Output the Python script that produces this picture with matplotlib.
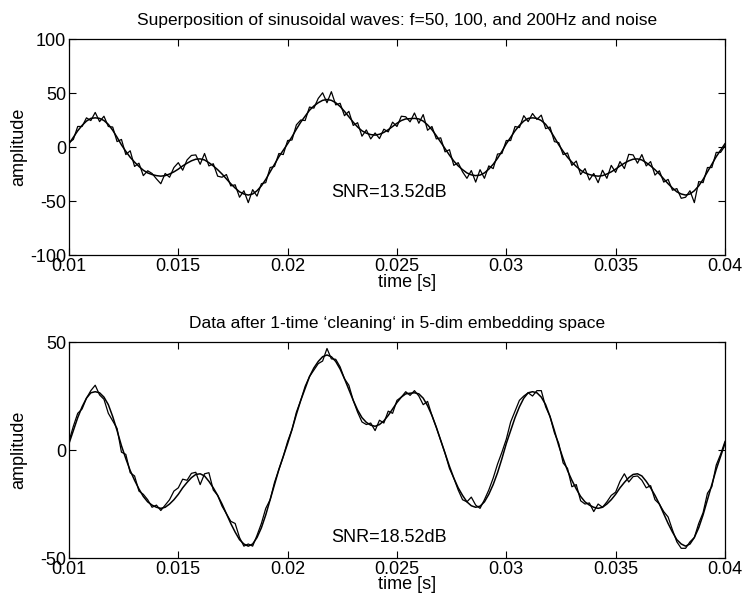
import matplotlib.pyplot as plt
import numpy as np

plt.rcParams['font.family'] = ['Liberation Sans', 'DejaVu Sans']
plt.rcParams['axes.unicode_minus'] = False

# sampling grid, 0.2 ms step
time = np.linspace(0.01, 0.04, 151)

# clean superposition (50, 100, 200 Hz)
clean = [3, 9, 15, 20, 24, 26.5, 27, 26.5, 24.5, 21,
         15.5, 9, 2, -4, -9.5, -14, -18, -21.5, -24, -25.5,
         -26.5, -27, -26.5, -25, -23, -20.5, -17.5, -15, -12.8, -11.3,
         -11, -12, -14.5, -17.5, -21, -25, -29.5, -34, -38, -41.5,
         -43.5, -44.5, -43.5, -40.5, -36, -30, -23, -16, -9, -3,
         3, 9.5, 16.5, 23, 28.5, 34, 38, 41, 43.2, 44,
         43.2, 41, 37.5, 33, 28, 23, 18.5, 15, 12.8, 11.5,
         11, 11.8, 13.5, 16, 19, 22, 24.5, 26, 26.3, 26.5,
         26, 24, 20.5, 16, 10.5, 4.5, -1.5, -7.5, -13, -17.5,
         -21, -24, -25.8, -26.5, -26, -24, -20.5, -16, -10.5, -4,
         3, 9, 15, 20, 24, 26.5, 27, 26.5, 24.5, 21,
         15.5, 9, 2, -4, -9.5, -14, -18, -21.5, -24, -25.5,
         -26.5, -27, -26.5, -25, -23, -20.5, -17.5, -15, -12.8, -11.3,
         -11, -12, -14.5, -17.5, -21, -25, -29.5, -34, -38, -41.5,
         -43.5, -44.5, -43.5, -40.5, -36, -30, -23, -16, -9, -3,
         3]

# signal with noise (upper panel)
noisy = [4, 7, 19, 19, 27, 24.5, 32, 23.5, 28.5, 19,
         18.5, 5, 7, -7, -3.5, -18, -15, -26.5, -22, -24.5,
         -29.5, -34, -24.5, -28, -19, -14.5, -21.5, -12, -7.8, -7.3,
         -16, -6, -17.5, -15.5, -27, -28, -25.5, -36, -35, -46.5,
         -40.5, -51.5, -39.5, -45.5, -34, -33, -19, -18, -6, -7,
         6, 6.5, 20.5, 25, 24.5, 37, 36, 45, 50.2, 41,
         51.2, 39, 40.5, 29, 33, 20, 22.5, 10, 15.8, 7.5,
         13, 7.8, 16.5, 14, 23, 19, 28.5, 28, 23.3, 31.5,
         22, 30, 15.5, 19, 7.5, 8.5, -4.5, -2.5, -17, -14.5,
         -23, -29, -21.8, -32.5, -21, -29, -17.5, -20, -6.5, -6,
         6, 6, 19, 18, 29, 23.5, 31, 25.5, 29.5, 17,
         18.5, 5, 4, -7, -5.5, -17, -13, -25.5, -20, -30.5,
         -24.5, -33, -21.5, -29, -17, -23.5, -13.5, -20, -6.8, -7.3,
         -15, -7, -17.5, -13.5, -26, -22, -32.5, -30, -40, -38.5,
         -47.5, -46.5, -40.5, -51.5, -32, -33, -19, -19, -5, -5,
         1]

# after one cleaning pass (lower panel)
cleaned = [4, 11, 17, 19, 24, 27.5, 30, 25.5, 23.5, 17,
           13.5, 10, -1, -2, -10.5, -12, -19, -20.5, -23, -26.5,
           -25.5, -28, -25.5, -23, -19, -17.5, -13.5, -14, -10.8, -10.3,
           -16, -11, -10.5, -18.5, -21, -26, -29.5, -33, -34, -40.5,
           -44.5, -43.5, -44.5, -39.5, -34, -27, -23, -15, -9, -3,
           4, 9.5, 17.5, 23, 29.5, 34, 37, 40, 41.2, 47,
           42.2, 42, 38.5, 33, 30, 23, 17.5, 13, 11.8, 12.5,
           9, 13.8, 12.5, 18, 17, 23, 24.5, 27, 25.3, 27.5,
           25, 21, 22.5, 16, 10.5, 4.5, -1.5, -8.5, -13, -18.5,
           -23, -24, -21.8, -25.5, -27, -23, -18.5, -13, -6.5, -1,
           5, 13, 18, 23, 25, 26.5, 25, 27.5, 27.5, 20,
           15.5, 8, 3, -6, -8.5, -17, -16, -23.5, -25, -24.5,
           -28.5, -25, -26.5, -24, -21, -19.5, -14.5, -11, -14.8, -12.3,
           -12, -14, -17.5, -16.5, -23, -25, -28.5, -31, -37, -42.5,
           -45.5, -45.5, -42.5, -40.5, -34, -29, -20, -17, -7, -2,
           4]

xticks = [0.01, 0.015, 0.02, 0.025, 0.03, 0.035, 0.04]
xtick_labels = ['0.01', '0.015', '0.02', '0.025', '0.03', '0.035', '0.04']

fig = plt.figure(figsize=(7.44, 6.01), dpi=100)
ax1 = fig.add_axes([0.0927, 0.5757, 0.8817, 0.3594])
ax2 = fig.add_axes([0.0927, 0.0715, 0.8817, 0.3594])

panels = [
    (ax1, noisy, (-100, 100), [-100, -50, 0, 50, 100],
     'Superposition of sinusoidal waves: f=50, 100, and 200Hz and noise',
     'SNR=13.52dB', -42.5, -0.09),
    (ax2, cleaned, (-50, 50), [-50, 0, 50],
     "Data after 1-time \u2018cleaning\u2018 in 5-dim embedding space",
     'SNR=18.52dB', -40.5, -0.082),
]

for ax, data, ylim, yticks, title, snr, snr_y, xlab_y in panels:
    ax.plot(time, clean, color='k', lw=1.1)
    ax.plot(time, data, color='k', lw=0.9)
    ax.set_xlim(0.01, 0.04)
    ax.set_ylim(ylim)
    ax.set_xticks(xticks)
    ax.set_xticklabels(xtick_labels)
    ax.set_yticks(yticks)
    ax.tick_params(direction='in', top=True, right=True, length=5,
                   width=0.8, labelsize=13, pad=2)
    for s in ax.spines.values():
        s.set_linewidth(0.9)
    ax.set_title(title, fontsize=12.5, pad=10)
    ax.set_xlabel('time [s]', fontsize=13)
    ax.xaxis.set_label_coords(0.515, xlab_y)
    ax.xaxis.label.set_va('top')
    ax.set_ylabel('amplitude', fontsize=13)
    ax.yaxis.set_label_coords(-0.063, 0.5)
    ax.text(0.0220, snr_y, snr, fontsize=13, va='center')

fig.savefig('out.png', dpi=100)
